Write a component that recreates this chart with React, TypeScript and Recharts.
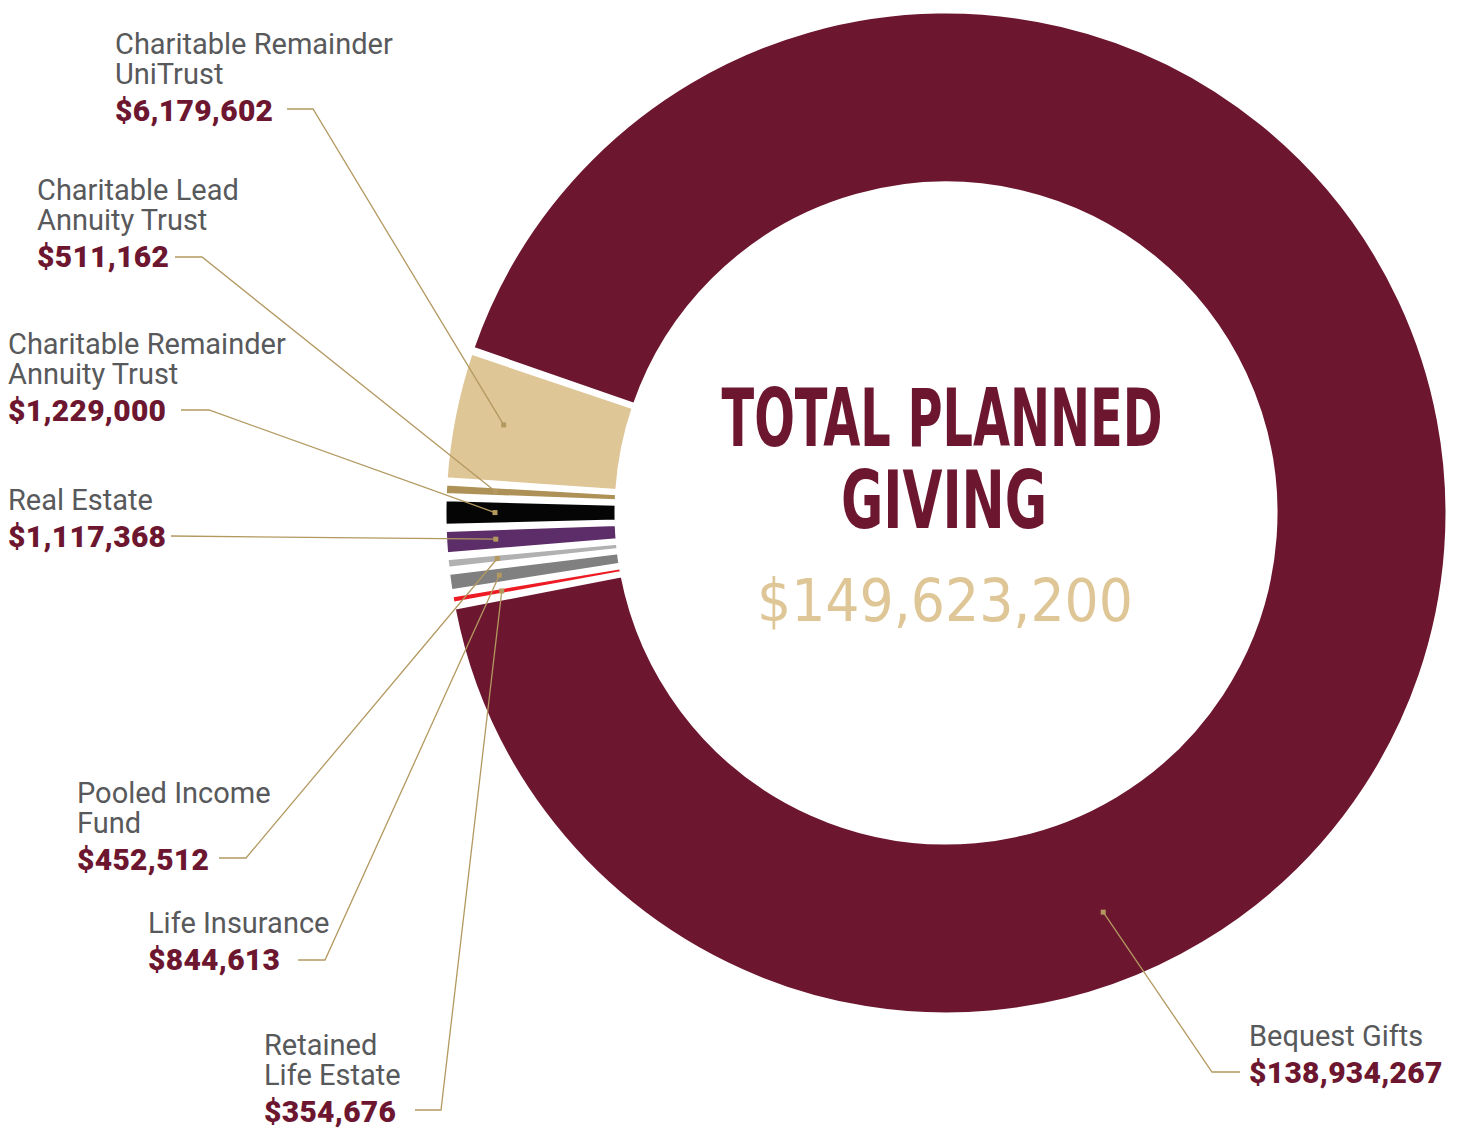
import React from "react";
import { PieChart, Pie, Cell } from "recharts";

// data
const nameLines = [
  ["Charitable Remainder", "UniTrust"],
  ["Charitable Lead", "Annuity Trust"],
  ["Charitable Remainder", "Annuity Trust"],
  ["Real Estate"],
  ["Pooled Income", "Fund"],
  ["Life Insurance"],
  ["Retained", "Life Estate"],
  ["Bequest Gifts"],
];
const amounts = [6179602, 511162, 1229000, 1117368, 452512, 844613, 354676, 138934267];
const titleLines = ["TOTAL PLANNED", "GIVING"];
const totalText = "$149,623,200";

const sliceColors = ["#dfc697", "#ad9156", "#050505", "#5c2d69", "#b1b1b1", "#808080", "#ed1c24", "#6d1630"];

const MAROON = "#6d1630";
const GOLD = "#b39960";
const RAD = Math.PI / 180;

// label placement: text x, first baseline, leader y, horizontal leader from x1 to elbow x2
const labelLayout: {
  x: number;
  y: number;
  ly: number;
  x1: number;
  x2: number;
  angle?: number;
  r?: number;
}[] = [
  { x: 115, y: 54, ly: 109, x1: 287, x2: 313 },
  { x: 37, y: 200, ly: 257, x1: 175, x2: 202 },
  { x: 8, y: 354, ly: 410, x1: 181, x2: 209 },
  { x: 8, y: 510, ly: 536, x1: 171, x2: 171 },
  { x: 77, y: 803, ly: 858, x1: 219, x2: 246 },
  { x: 148, y: 933, ly: 960, x1: 298, x2: 325 },
  { x: 264, y: 1055, ly: 1110, x1: 415, x2: 441 },
  { x: 1249, y: 1046, ly: 1072, x1: 1240, x2: 1212, angle: -68.5, r: 429 },
];

const data = nameLines.map((lines, i) => ({ name: lines.join(" "), value: amounts[i] }));

const fmt = (v: number) => "$" + v.toLocaleString("en-US");

const renderLabel = (props: any) => {
  const { cx, cy, midAngle, index } = props;
  const lay = labelLayout[index];
  const ang = lay.angle ?? midAngle;
  const r = lay.r ?? 451;
  const mx = cx + r * Math.cos(-ang * RAD);
  const my = cy + r * Math.sin(-ang * RAD);
  const lines = nameLines[index];
  return (
    <g key={`lbl-${index}`}>
      <polyline
        points={`${lay.x1},${lay.ly} ${lay.x2},${lay.ly} ${mx},${my}`}
        fill="none"
        stroke={GOLD}
        strokeWidth={1.3}
      />
      <rect x={mx - 2.5} y={my - 2.5} width={5} height={5} fill={GOLD} />
      <text x={lay.x} y={lay.y} fontFamily="Roboto, sans-serif" fontSize={29} fill="#58595b">
        {lines.map((t, j) => (
          <tspan key={j} x={lay.x} dy={j === 0 ? 0 : 29.5}>
            {t}
          </tspan>
        ))}
        <tspan
          x={lay.x}
          dy={37}
          fontWeight={900}
          fontSize={30}
          letterSpacing={0.3}
          fill={MAROON}
        >
          {fmt(amounts[index])}
        </tspan>
      </text>
    </g>
  );
};

export default function App() {
  return (
    <div style={{ position: "absolute", left: 0, top: 0, width: 1466, height: 1129 }}>
      <PieChart width={1466} height={1129} margin={{ top: 0, right: 0, bottom: 0, left: 0 }}>
        <Pie
          data={data}
          dataKey="value"
          nameKey="name"
          cx={946}
          cy={513}
          innerRadius={330}
          outerRadius={501}
          startAngle={161.4}
          endAngle={521.4}
          paddingAngle={0.6}
          stroke="#ffffff"
          strokeWidth={3}
          label={renderLabel}
          labelLine={false}
          isAnimationActive={false}
        >
          {data.map((d, i) => (
            <Cell key={d.name} fill={sliceColors[i]} />
          ))}
        </Pie>
      </PieChart>
      <svg
        width={1466}
        height={1129}
        style={{ position: "absolute", left: 0, top: 0, pointerEvents: "none" }}
      >
        <text
          x={942}
          y={446}
          textAnchor="middle"
          fontFamily="'DejaVu Sans Condensed', 'DejaVu Sans', sans-serif"
          fontWeight={700}
          fontSize={80}
          fill={MAROON}
          textLength={441}
          lengthAdjust="spacingAndGlyphs"
        >
          {titleLines[0]}
        </text>
        <text
          x={944}
          y={528}
          textAnchor="middle"
          fontFamily="'DejaVu Sans Condensed', 'DejaVu Sans', sans-serif"
          fontWeight={700}
          fontSize={80}
          fill={MAROON}
          textLength={206}
          lengthAdjust="spacingAndGlyphs"
        >
          {titleLines[1]}
        </text>
        <text
          x={945}
          y={621}
          textAnchor="middle"
          fontFamily="'DejaVu Sans Condensed', 'DejaVu Sans', sans-serif"
          fontSize={59}
          fill="#dfc697"
          textLength={376}
          lengthAdjust="spacingAndGlyphs"
        >
          {totalText}
        </text>
      </svg>
    </div>
  );
}
